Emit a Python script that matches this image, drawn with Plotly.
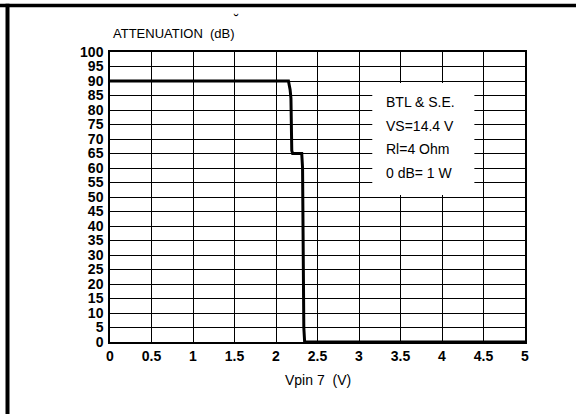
import plotly.graph_objects as go

# Data
vpin = [0, 2.15, 2.17, 2.18, 2.19, 2.20, 2.31, 2.32, 2.335, 2.345, 5]
atten_db = [90, 90, 87, 84, 66, 65, 65, 60, 5, 0, 0]

x_ticks = [0, 0.5, 1, 1.5, 2, 2.5, 3, 3.5, 4, 4.5, 5]
x_tick_labels = ["0", "0.5", "1", "1.5", "2", "2.5", "3", "3.5", "4", "4.5", "5"]
y_ticks = list(range(0, 101, 5))
y_tick_labels = [str(v) for v in y_ticks]

legend_lines = ["BTL &amp; S.E.", "VS=14.4 V", "Rl=4 Ohm", "0 dB= 1 W"]
legend_y = [82.8, 74.6, 66.4, 58.2]

FONT = "Liberation Sans, Arial, sans-serif"

fig = go.Figure()
fig.add_trace(go.Scatter(
    x=vpin, y=atten_db, mode="lines",
    line=dict(color="black", width=3),
    hoverinfo="skip", showlegend=False, cliponaxis=False,
))

fig.update_layout(
    width=579, height=414,
    margin=dict(l=110, r=54, t=52, b=72),
    paper_bgcolor="white", plot_bgcolor="white",
    font=dict(family=FONT, color="black"),
    showlegend=False,
)

fig.update_xaxes(
    range=[0, 5], tickvals=x_ticks, ticktext=x_tick_labels,
    showgrid=True, gridcolor="black", gridwidth=1.3,
    showline=True, linecolor="black", linewidth=1.5, mirror=True,
    zeroline=False, ticks="", ticklabelstandoff=0,
    tickfont=dict(family=FONT, size=14, color="black", weight="bold"),
)
fig.update_yaxes(
    range=[0, 100], tickvals=y_ticks, ticktext=y_tick_labels,
    showgrid=True, gridcolor="black", gridwidth=1.3,
    showline=True, linecolor="black", linewidth=1.5, mirror=True,
    zeroline=False, ticks="", ticklabelstandoff=2,
    tickfont=dict(family=FONT, size=14, color="black", weight="bold"),
)

def px_x(p):
    return (p - 110) / 415

def px_y(q):
    return (341.7 - q) / 290

shapes = [
    # white legend box covering the grid
    dict(type="rect", xref="x", yref="y", x0=3.16, x1=4.39, y0=50.7, y1=89.3,
         fillcolor="white", line=dict(width=0), layer="above"),
    # page frame: top bar and left bar (as filled rects)
    dict(type="rect", xref="paper", yref="paper",
         x0=px_x(0), x1=px_x(576), y0=px_y(3.5), y1=px_y(7),
         fillcolor="black", line=dict(width=0), layer="above"),
    dict(type="rect", xref="paper", yref="paper",
         x0=px_x(5.5), x1=px_x(9.5), y0=px_y(3.5), y1=px_y(420),
         fillcolor="black", line=dict(width=0), layer="above"),
]
fig.update_layout(shapes=shapes)

annotations = [
    dict(text="ATTENUATION  (dB)", xref="paper", yref="paper",
         x=px_x(111), y=px_y(33), xanchor="left", yanchor="middle",
         showarrow=False, font=dict(family=FONT, size=13, color="black")),
    dict(text="Vpin 7  (V)", xref="paper", yref="paper",
         x=px_x(318), y=px_y(380), xanchor="center", yanchor="middle",
         showarrow=False, font=dict(family=FONT, size=14, color="black")),
    dict(text="˘", xref="paper", yref="paper",
         x=px_x(236), y=px_y(20), xanchor="center", yanchor="middle",
         showarrow=False, font=dict(family=FONT, size=14, color="black")),
]
for txt, yv in zip(legend_lines, legend_y):
    annotations.append(dict(
        text=txt, xref="x", yref="y", x=3.3, y=yv, xanchor="left", yanchor="middle",
        showarrow=False, font=dict(family=FONT, size=14, color="black")))
fig.update_layout(annotations=annotations)

fig.write_html(
    "out.html",
    config={"displayModeBar": False},
    post_script="document.body.style.margin='0';document.body.style.overflow='hidden';",
)
